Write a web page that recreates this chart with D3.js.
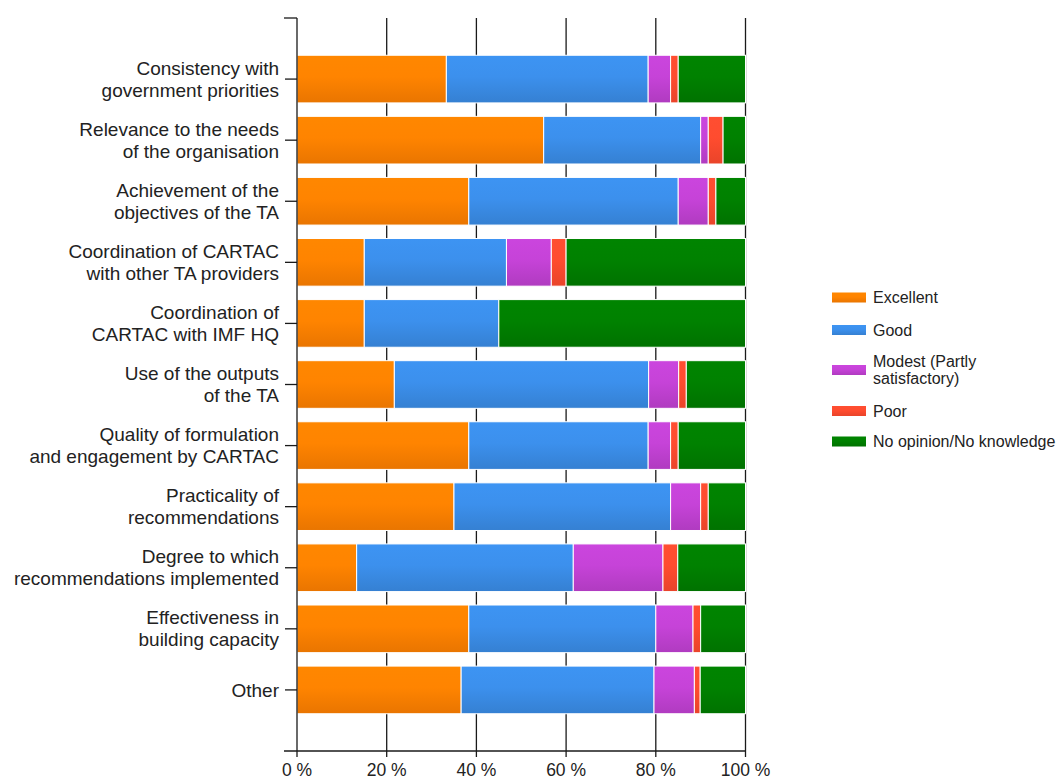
<!DOCTYPE html>
<html>
<head>
<meta charset="utf-8">
<script src="https://cdn.jsdelivr.net/npm/d3@7"></script>
<style>
  html, body { margin: 0; padding: 0; background: #fff; }
  svg { display: block; }
  text { font-family: "Liberation Sans", Arial, sans-serif; fill: #222; }
</style>
</head>
<body>
<svg id="chart" width="1063" height="781"></svg>
<script>
// Survey ratings per aspect of technical assistance (percent of respondents)
const categories = [
  "Consistency with\ngovernment priorities",
  "Relevance to the needs\nof the organisation",
  "Achievement of the\nobjectives of the TA",
  "Coordination of CARTAC\nwith other TA providers",
  "Coordination of\nCARTAC with IMF HQ",
  "Use of the outputs\nof the TA",
  "Quality of formulation\nand engagement by CARTAC",
  "Practicality of\nrecommendations",
  "Degree to which\nrecommendations implemented",
  "Effectiveness in\nbuilding capacity",
  "Other"
];
const excellent = [33.3, 55.0, 38.3, 15.0, 15.0, 21.7, 38.3, 35.0, 13.3, 38.3, 36.6];
const good      = [45.0, 35.0, 46.7, 31.7, 30.0, 56.7, 40.0, 48.3, 48.3, 41.7, 43.0];
const modest    = [ 5.0,  1.7,  6.7, 10.0,  0.0,  6.7,  5.0,  6.7, 20.0,  8.3,  9.0];
const poor      = [ 1.7,  3.3,  1.7,  3.3,  0.0,  1.7,  1.7,  1.7,  3.3,  1.7,  1.3];
const noOpinion = [15.0,  5.0,  6.6, 40.0, 55.0, 13.2, 15.0,  8.3, 15.1, 10.0, 10.1];

const seriesNames = ["Excellent", "Good", "Modest (Partly\nsatisfactory)", "Poor", "No opinion/No knowledge"];
const seriesColors = ["#ff8000", "#3a8ce6", "#c041d2", "#ff4a2e", "#007d00"];
const xTicks = [0, 20, 40, 60, 80, 100];

const seriesValues = [excellent, good, modest, poor, noOpinion];
const keys = d3.range(seriesNames.length).map(String);
const rows = categories.map((c, i) => {
  const r = { category: c };
  keys.forEach((k, s) => { r[k] = seriesValues[s][i]; });
  return r;
});

const svg = d3.select("#chart");

const axisTop = 18, axisBottom = 751;
const x = d3.scaleLinear().domain([0, 100]).range([297, 745.5]);
const slot = (axisBottom - axisTop) / (categories.length + 1);
const y = d3.scaleBand()
  .domain(categories)
  .range([axisTop + slot / 2, axisBottom - slot / 2])
  .paddingInner(0.22)
  .paddingOuter(0.11);

// Gradients giving the bars a slight sheen
const defs = svg.append("defs");
seriesColors.forEach((c, i) => {
  const g = defs.append("linearGradient")
    .attr("id", "grad" + i).attr("x1", 0).attr("y1", 0).attr("x2", 0).attr("y2", 1);
  const base = d3.color(c);
  g.append("stop").attr("offset", "0%").attr("stop-color", base.brighter(0.15));
  g.append("stop").attr("offset", "45%").attr("stop-color", base.brighter(0.08));
  g.append("stop").attr("offset", "100%").attr("stop-color", base.darker(0.25));
});

// Vertical grid lines (extend past the axis as tick marks)
svg.append("g").selectAll("line")
  .data(xTicks.filter(d => d > 0))
  .join("line")
  .attr("x1", d => x(d)).attr("x2", d => x(d))
  .attr("y1", axisTop).attr("y2", axisBottom + 6)
  .attr("stroke", "#1a1a1a").attr("stroke-width", 1.3);

// Stacked bars
const stacked = d3.stack().keys(keys)(rows);
svg.append("g").selectAll("g")
  .data(stacked)
  .join("g")
  .attr("fill", (d, i) => `url(#grad${i})`)
  .selectAll("rect")
  .data(d => d.filter(p => p[1] - p[0] > 0))
  .join("rect")
  .attr("x", d => x(d[0]))
  .attr("width", d => x(d[1]) - x(d[0]))
  .attr("y", d => y(d.data.category))
  .attr("height", y.bandwidth())
  .attr("stroke", "#ffffff").attr("stroke-width", 1);

// Left axis with category labels
const yAxis = svg.append("g")
  .attr("transform", `translate(${x(0)},0)`)
  .call(d3.axisLeft(y).tickSize(12).tickPadding(6));
yAxis.select(".domain").remove();
yAxis.selectAll(".tick line").attr("stroke", "#1a1a1a").attr("stroke-width", 1.3);
yAxis.selectAll(".tick text")
  .attr("font-size", 19)
  .attr("font-family", "Liberation Sans, Arial, sans-serif")
  .attr("fill", "#222")
  .each(function(d) {
    const lines = d.split("\n");
    const t = d3.select(this).text(null).attr("dy", null);
    const lh = 22;
    const start = -(lines.length - 1) * lh / 2;
    lines.forEach((ln, i) => {
      t.append("tspan").attr("x", -18).attr("y", start + i * lh).attr("dy", "0.35em").text(ln);
    });
  });

// Axis lines
svg.append("line")
  .attr("x1", x(0)).attr("x2", x(0)).attr("y1", axisTop).attr("y2", axisBottom + 6)
  .attr("stroke", "#1a1a1a").attr("stroke-width", 1.3);
svg.append("line")
  .attr("x1", x(0) - 13).attr("x2", x(0)).attr("y1", axisTop).attr("y2", axisTop)
  .attr("stroke", "#1a1a1a").attr("stroke-width", 1.3);
svg.append("line")
  .attr("x1", x(0) - 13).attr("x2", x(100)).attr("y1", axisBottom).attr("y2", axisBottom)
  .attr("stroke", "#1a1a1a").attr("stroke-width", 1.3);

// Bottom percentage labels
svg.append("g").selectAll("text")
  .data(xTicks)
  .join("text")
  .attr("x", d => x(d)).attr("y", 776)
  .attr("text-anchor", "middle")
  .attr("font-size", 17.5)
  .text(d => d + " %");

// Legend
const legendRows = [297.5, 330, 370, 411, 441.5];
const legend = svg.append("g");
seriesNames.forEach((name, i) => {
  const cy = legendRows[i];
  legend.append("rect")
    .attr("x", 832).attr("y", cy - 5).attr("width", 34).attr("height", 10)
    .attr("fill", `url(#grad${i})`);
  const lines = name.split("\n");
  const t = legend.append("text").attr("font-size", 16);
  const lh = 17;
  const start = cy - (lines.length - 1) * lh / 2;
  lines.forEach((ln, j) => {
    t.append("tspan").attr("x", 873).attr("y", start + j * lh).attr("dy", "0.35em").text(ln);
  });
});
</script>
</body>
</html>
